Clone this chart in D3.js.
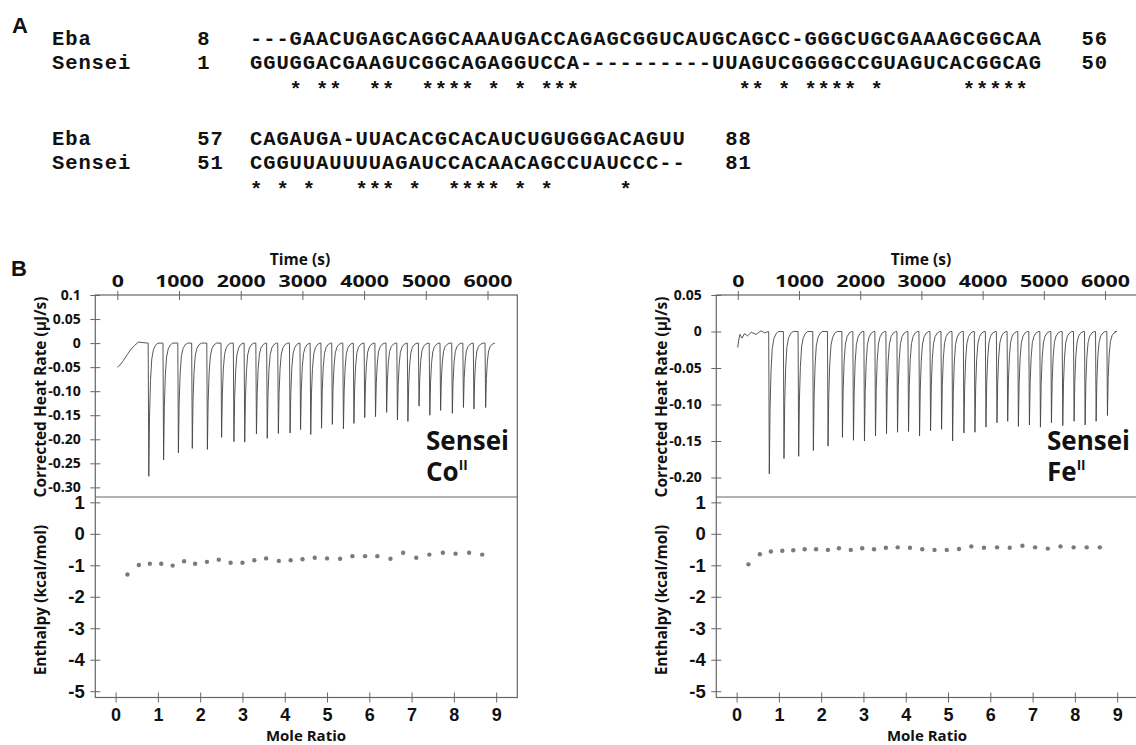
<!DOCTYPE html>
<html>
<head>
<meta charset="utf-8">
<script src="https://cdn.jsdelivr.net/npm/d3@7"></script>
<style>
  html, body { margin: 0; padding: 0; background: #fff; }
  svg { display: block; }
  .seq { font-family: "Liberation Mono", "Courier New", monospace; font-weight: bold; font-size: 20.5px; fill: #111; }
  .tlabel { font-family: "Open Sans", sans-serif; font-weight: 700; fill: #111; }
  .rlabel { font-family: "Liberation Sans", Arial, sans-serif; font-weight: 700; fill: #111; }
</style>
</head>
<body>
<svg width="1136" height="745"></svg>
<script>
// ---- alignment (panel A) ----
let seqNames = ['Eba', 'Sensei'];
let block1Seqs = ['---GAACUGAGCAGGCAAAUGACCAGAGCGGUCAUGCAGCC-GGGCUGCGAAAGCGGCAA',
                  'GGUGGACGAAGUCGGCAGAGGUCCA----------UUAGUCGGGGCCGUAGUCACGGCAG'];
let block1Start = ['8', '1'];
let block1End = ['56', '50'];
let block1Stars = '   * **  **  **** * * ***            ** * **** *      *****';
let block2Seqs = ['CAGAUGA-UUACACGCACAUCUGUGGGACAGUU',
                  'CGGUUAUUUUAGAUCCACAACAGCCUAUCCC--'];
let block2Start = ['57', '51'];
let block2End = ['88', '81'];
let block2Stars = '* * *   *** *  **** * *     *';

// ---- ITC (panel B) ----
let timeTicks = [0, 1000, 2000, 3000, 4000, 5000, 6000];
let ratioTicks = [0, 1, 2, 3, 4, 5, 6, 7, 8, 9];
let enthalpyTicks = [1, 0, -1, -2, -3, -4, -5];
let coHeatTicks = [0.1, 0.05, 0, -0.05, -0.10, -0.15, -0.20, -0.25, -0.30];
let coHeatLabels = ['0.1', '0.05', '0', '-0.05', '-0.10', '-0.15', '-0.20', '-0.25', '-0.30'];
let feHeatTicks = [0.05, 0, -0.05, -0.10, -0.15, -0.20];
let feHeatLabels = ['0.05', '0', '-0.05', '-0.10', '-0.15', '-0.20'];

// thermogram: start drift, injection times (s), peak minima (uJ/s)
let coStart = [[0, -0.05], [40, -0.046], [100, -0.036], [160, -0.024], [220, -0.013], [280, -0.005], [340, 0.002], [420, 0.001], [490, 0]];
let coInjections = [500, 740, 980, 1205, 1450, 1680, 1880, 2055, 2245, 2420, 2600, 2790, 2960, 3125, 3300,
                    3475, 3655, 3825, 4000, 4175, 4355, 4530, 4700, 4880, 5055, 5230, 5420, 5600, 5770, 5960];
let coPeaks = [-0.277, -0.243, -0.228, -0.219, -0.221, -0.196, -0.205, -0.206, -0.189, -0.198, -0.188, -0.187, -0.180, -0.190, -0.177,
               -0.169, -0.178, -0.167, -0.155, -0.153, -0.144, -0.160, -0.163, -0.131, -0.150, -0.140, -0.146, -0.134, -0.137, -0.134];
let coEnd = 6120;

let feStart = [[0, -0.022], [15, -0.012], [35, -0.004], [70, -0.009], [110, -0.003], [160, -0.006], [220, -0.001], [300, -0.004], [380, 0.001], [440, -0.002], [500, 0]];
let feInjections = [505, 745, 985, 1225, 1465, 1700, 1880, 2060, 2240, 2420, 2600, 2780, 2960, 3140, 3320,
                    3500, 3685, 3865, 4045, 4225, 4400, 4575, 4755, 4935, 5115, 5300, 5485, 5665, 5845, 6030];
let fePeaks = [-0.195, -0.174, -0.171, -0.163, -0.157, -0.145, -0.149, -0.150, -0.143, -0.140, -0.138, -0.137, -0.143, -0.136, -0.134,
               -0.150, -0.139, -0.138, -0.131, -0.125, -0.123, -0.130, -0.128, -0.131, -0.125, -0.129, -0.123, -0.128, -0.123, -0.115];
let feEnd = 6160;

// shape of one injection peak: [seconds after injection, fraction of peak]
let spikeShape = [[0, 0], [10, 1], [22, 0.55], [38, 0.28], [58, 0.12], [85, 0.05], [120, 0.015], [160, 0]];

// integrated heats
let coRatio = [0.28, 0.55, 0.81, 1.08, 1.35, 1.62, 1.88, 2.16, 2.44, 2.72, 3.0, 3.28, 3.56, 3.86, 4.14,
               4.42, 4.71, 5.0, 5.31, 5.6, 5.9, 6.19, 6.5, 6.8, 7.11, 7.42, 7.74, 8.04, 8.36, 8.67];
let coEnthalpy = [-1.29, -0.99, -0.95, -0.95, -1.01, -0.87, -0.95, -0.89, -0.82, -0.92, -0.92, -0.84, -0.78, -0.86, -0.84,
                  -0.81, -0.76, -0.78, -0.79, -0.71, -0.71, -0.71, -0.79, -0.60, -0.76, -0.66, -0.60, -0.63, -0.60, -0.66];
let feRatio = [0.28, 0.55, 0.81, 1.08, 1.34, 1.61, 1.88, 2.16, 2.42, 2.70, 2.97, 3.25, 3.53, 3.81, 4.10,
               4.39, 4.68, 4.97, 5.26, 5.55, 5.85, 6.16, 6.46, 6.76, 7.06, 7.36, 7.66, 7.97, 8.28, 8.59];
let feEnthalpy = [-0.97, -0.65, -0.56, -0.54, -0.52, -0.49, -0.49, -0.51, -0.46, -0.51, -0.46, -0.49, -0.44, -0.43, -0.44,
                  -0.49, -0.51, -0.51, -0.48, -0.40, -0.44, -0.43, -0.44, -0.38, -0.43, -0.47, -0.40, -0.43, -0.43, -0.43];

const svg = d3.select('svg');
const lineColor = '#666';

// ---------- panel A ----------
function drawAlignment() {
	const col = d3.scaleLinear().domain([0, 1]).range([52, 65.2]);
	const blocks = [
		{ seqs: block1Seqs, start: block1Start, end: block1End, stars: block1Stars, rows: [45, 69], starY: 96 },
		{ seqs: block2Seqs, start: block2Start, end: block2End, stars: block2Stars, rows: [145, 169], starY: 196 }
	];
	const g = svg.append('g');

	blocks.forEach(b => {
		b.seqs.forEach((s, r) => {
			const y = b.rows[r];
			const cells = [];
			seqNames[r].split('').forEach((c, i) => cells.push({ c: c, col: i }));
			b.start[r].split('').forEach((c, i) => cells.push({ c: c, col: 11 + i }));
			s.split('').forEach((c, i) => cells.push({ c: c, col: 15 + i }));
			b.end[r].split('').forEach((c, i) => cells.push({ c: c, col: 15 + s.length + 3 + i }));
			g.selectAll(null)
				.data(cells)
				.enter().append('text')
					.attr('class', 'seq')
					.attr('x', d => col(d.col))
					.attr('y', y)
					.text(d => d.c);
		});
		const stars = b.stars.split('').map((c, i) => ({ c: c, col: 15 + i })).filter(d => d.c === '*');
		g.selectAll(null)
			.data(stars)
			.enter().append('text')
				.attr('class', 'seq')
				.attr('x', d => col(d.col))
				.attr('y', b.starY)
				.text('*');
	});

	svg.append('text').attr('class', 'rlabel').attr('x', 12).attr('y', 33).attr('font-size', 22).text('A');
	svg.append('text').attr('class', 'rlabel').attr('x', 11).attr('y', 276).attr('font-size', 22).text('B');
}

// ---------- panel B ----------
function buildTrace(start, injections, peaks, end) {
	let pts = start.slice();
	injections.forEach((t, i) => {
		spikeShape.forEach(s => pts.push([t + s[0], s[1] * peaks[i]]));
	});
	pts.push([end, 0]);
	return pts;
}

function drawItc(p) {
	const X0 = 95.3 + p.dx, X1 = 517.3 + p.dx;
	const TOP = 295, MID = 497, BOT = 697.5;
	const g = svg.append('g');

	const xTime = d3.scaleLinear().domain(p.timeDomain).range([X0, X1]);
	const yHeat = d3.scaleLinear().domain(p.heatDomain).range([MID, TOP]);
	const xRatio = d3.scaleLinear().domain([-0.48, 9.5]).range([X0, X1]);
	const yEnth = d3.scaleLinear().domain([-5.2, 1.17]).range([BOT, MID]);

	// frame
	g.append('rect')
		.attr('x', X0).attr('y', TOP)
		.attr('width', X1 - X0).attr('height', BOT - TOP)
		.attr('fill', 'none').attr('stroke', lineColor).attr('stroke-width', 1.2);
	g.append('line')
		.attr('x1', X0).attr('x2', X1).attr('y1', MID).attr('y2', MID)
		.attr('stroke', lineColor).attr('stroke-width', 1.2);

	// time axis (top)
	const ax1 = g.append('g')
		.attr('transform', `translate(0,${TOP})`)
		.call(d3.axisTop(xTime).tickValues(timeTicks).tickSize(0).tickPadding(8).tickFormat(d3.format('d')));
	ax1.select('.domain').remove();
	ax1.selectAll('.tick line').attr('y1', -4).attr('y2', 5).attr('stroke', lineColor);
	ax1.selectAll('.tick text')
		.attr('class', 'tlabel').attr('font-size', 15.5).attr('fill', '#111')
		.attr('textLength', d => String(d).length * 12.2)
		.attr('lengthAdjust', 'spacingAndGlyphs');

	// heat rate axis
	const ax2 = g.append('g')
		.attr('transform', `translate(${X0},0)`)
		.call(d3.axisLeft(yHeat).tickValues(p.heatTicks).tickSize(0).tickPadding(14.5)
			.tickFormat((d, i) => p.heatLabels[i]));
	ax2.select('.domain').remove();
	ax2.selectAll('.tick line').attr('x1', -5).attr('x2', 5).attr('stroke', lineColor);
	ax2.selectAll('.tick text').attr('class', 'tlabel').attr('font-size', 14).attr('fill', '#111');

	// mole ratio axis (bottom)
	const ax3 = g.append('g')
		.attr('transform', `translate(0,${BOT})`)
		.call(d3.axisBottom(xRatio).tickValues(ratioTicks).tickSize(0).tickPadding(11));
	ax3.select('.domain').remove();
	ax3.selectAll('.tick line').attr('y1', -5).attr('y2', 5).attr('stroke', lineColor);
	ax3.selectAll('.tick text').attr('class', 'rlabel').attr('font-size', 18).attr('fill', '#111');

	// enthalpy axis
	const ax4 = g.append('g')
		.attr('transform', `translate(${X0},0)`)
		.call(d3.axisLeft(yEnth).tickValues(enthalpyTicks).tickSize(0).tickPadding(10.5)
			.tickFormat(d => String(d)));
	ax4.select('.domain').remove();
	ax4.selectAll('.tick line').attr('x1', -5).attr('x2', 5).attr('stroke', lineColor);
	ax4.selectAll('.tick text').attr('class', 'rlabel').attr('font-size', 18.5).attr('fill', '#111');

	// thermogram
	const line = d3.line().x(d => xTime(d[0])).y(d => yHeat(d[1]));
	g.append('path')
		.datum(buildTrace(p.start, p.injections, p.peaks, p.end))
		.attr('d', line)
		.attr('fill', 'none')
		.attr('stroke', '#444')
		.attr('stroke-width', 0.9)
		.attr('stroke-linejoin', 'round');

	// integrated heats
	g.selectAll('circle')
		.data(p.ratio.map((r, i) => [r, p.enthalpy[i]]))
		.enter().append('circle')
			.attr('cx', d => xRatio(d[0]))
			.attr('cy', d => yEnth(d[1]))
			.attr('r', 2.2)
			.attr('fill', '#7a7a7a');

	// titles
	g.append('text').attr('class', 'tlabel').attr('font-size', 15.5)
		.attr('text-anchor', 'middle').attr('x', 300 + p.dx).attr('y', 265).text('Time (s)');
	g.append('text').attr('class', 'tlabel').attr('font-size', 15)
		.attr('text-anchor', 'middle').attr('x', 306 + p.dx).attr('y', 741).text('Mole Ratio');
	g.append('text').attr('class', 'tlabel').attr('font-size', 15.5)
		.attr('text-anchor', 'middle')
		.attr('transform', `translate(${45.5 + p.dx},397) rotate(-90)`)
		.text('Corrected Heat Rate (\u00b5J/s)');
	g.append('text').attr('class', 'tlabel').attr('font-size', 15.5)
		.attr('text-anchor', 'middle')
		.attr('transform', `translate(${45.5 + p.dx},600) rotate(-90)`)
		.text('Enthalpy (kcal/mol)');

	// sample label (two lines in one text)
	const lbl = g.append('text').attr('class', 'tlabel').attr('font-size', 26)
		.attr('x', 426 + p.dx).attr('y', 450);
	lbl.append('tspan').text('Sensei');
	lbl.append('tspan').attr('x', 426 + p.dx).attr('dy', 31).text(p.ion);
	lbl.append('tspan').attr('font-size', 13.5).attr('dy', -11).text('II');
}

drawAlignment();

drawItc({
	dx: 0, ion: 'Co',
	timeDomain: [-357, 6483], heatDomain: [-0.32, 0.1],
	heatTicks: coHeatTicks, heatLabels: coHeatLabels,
	start: coStart, injections: coInjections, peaks: coPeaks, end: coEnd,
	ratio: coRatio, enthalpy: coEnthalpy
});

drawItc({
	dx: 621, ion: 'Fe',
	timeDomain: [-351, 6544], heatDomain: [-0.2267, 0.05],
	heatTicks: feHeatTicks, heatLabels: feHeatLabels,
	start: feStart, injections: feInjections, peaks: fePeaks, end: feEnd,
	ratio: feRatio, enthalpy: feEnthalpy
});
</script>
</body>
</html>
